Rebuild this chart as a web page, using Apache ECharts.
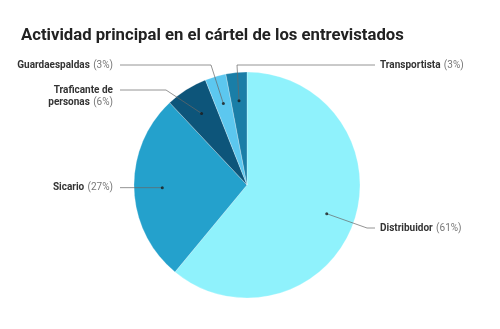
<!DOCTYPE html>
<html>
<head>
<meta charset="utf-8">
<script src="https://cdn.jsdelivr.net/npm/echarts@6/dist/echarts.min.js"></script>
<style>
html,body{margin:0;padding:0;background:#fff;}
#chart{width:500px;height:329px;}
</style>
</head>
<body>
<div id="chart"></div>
<script>
const categories = ['Distribuidor', 'Sicario', 'Traficante de\npersonas', 'Guardaespaldas', 'Transportista'];
const values = [61, 27, 6, 3, 3];
const colors = ['#8ff2fc', '#24a1cc', '#0d557a', '#5cc7ef', '#1a7ea7'];

const CX = 247, CY = 185, R = 113, DOT = 0.75;
// leader-line layout per label: side, elbow (null = straight), end of line
const leaderCfg = [
  { side: 'right', elbow: [367, 228], end: [375, 228] },
  { side: 'left', elbow: null, end: [120, null] },
  { side: 'left', elbow: [166, 90], end: [120, 90] },
  { side: 'left', elbow: [211, 65], end: [120, 65] },
  { side: 'right', elbow: [237, 65], end: [375, 65] }
];
const total = values.reduce((a, b) => a + b, 0);
const mids = values.map((v, i) => values.slice(0, i).reduce((a, b) => a + b, 0) + v / 2);

const chart = echarts.init(document.getElementById('chart'));
chart.setOption({
  animation: false,
  title: {
    text: 'Actividad principal en el cártel de los entrevistados',
    left: 16, top: 22,
    textStyle: { fontFamily: 'Roboto', fontWeight: 'bold', fontSize: 16.7, color: '#222' }
  },
  polar: { center: [CX, CY], radius: R },
  angleAxis: { type: 'value', min: 0, max: total, startAngle: 90, clockwise: true, show: false },
  radiusAxis: { type: 'value', min: 0, max: 1, show: false },
  series: [
    {
      type: 'pie',
      center: [CX, CY],
      radius: R,
      startAngle: 90,
      clockwise: true,
      itemStyle: { borderColor: 'rgba(255,255,255,0.5)', borderWidth: 0.5 },
      data: categories.map((c, i) => ({ name: c, value: values[i], itemStyle: { color: colors[i] } })),
      label: {
        show: true,
        formatter: p => {
          const lines = p.name.split('\n');
          const last = lines.pop();
          return lines.map(l => '{b|' + l + '}').concat(['{b|' + last + '} {p|(' + p.value + '%)}']).join('\n');
        },
        rich: {
          b: { fontFamily: 'Roboto', fontWeight: 'bold', fontSize: 10, color: '#333', lineHeight: 12 },
          p: { fontFamily: 'Roboto', fontSize: 10, color: '#777', lineHeight: 12 }
        }
      },
      labelLine: { show: false },
      labelLayout: function (params) {
        const i = params.dataIndex;
        const cfg = leaderCfg[i];
        const h = params.labelRect.height;
        let lineY = cfg.end[1];
        if (lineY == null) {
          const a = mids[i] / total * Math.PI * 2;
          lineY = CY - Math.cos(a) * R * DOT;
        }
        const right = cfg.side === 'right';
        return {
          x: right ? cfg.end[0] + 5 : cfg.end[0] - 7,
          y: h > 14 ? lineY - 6 : lineY - h / 2,
          align: right ? 'left' : 'right',
          verticalAlign: 'top'
        };
      }
    },
    {
      type: 'custom',
      coordinateSystem: 'polar',
      z: 4,
      silent: true,
      data: mids.map((m, i) => [DOT, m, i]),
      renderItem: function (params, api) {
        const i = api.value(2);
        const cfg = leaderCfg[i];
        const d = api.coord([api.value(0), api.value(1)]);
        const pts = [d];
        if (cfg.elbow) pts.push(cfg.elbow);
        pts.push([cfg.end[0], cfg.end[1] == null ? d[1] : cfg.end[1]]);
        return {
          type: 'polyline',
          shape: { points: pts },
          style: { stroke: '#666', lineWidth: 1, fill: null, opacity: 0.7 }
        };
      }
    },
    {
      type: 'scatter',
      coordinateSystem: 'polar',
      symbolSize: 3,
      itemStyle: { color: '#1a1a1a' },
      z: 5,
      silent: true,
      data: mids.map(m => [DOT, m])
    }
  ]
});
</script>
</body>
</html>
